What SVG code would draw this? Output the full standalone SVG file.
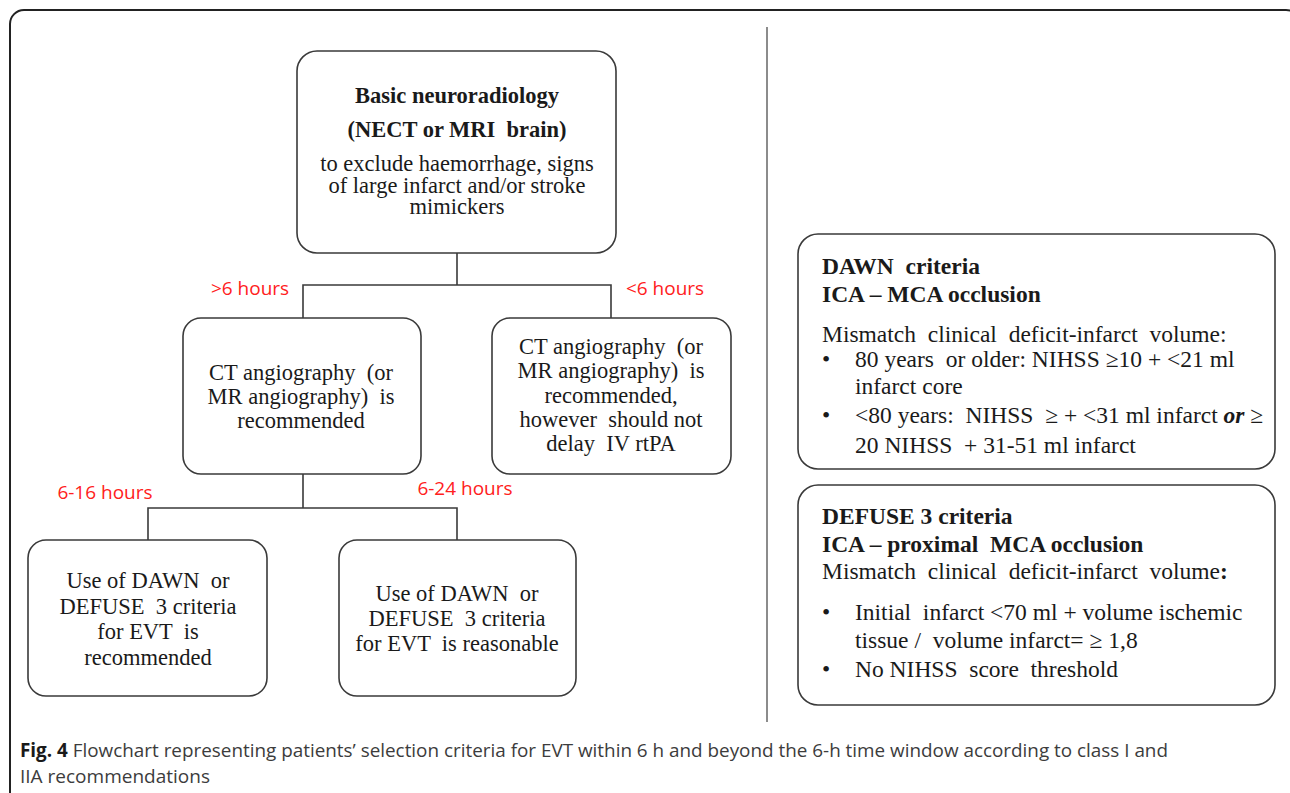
<svg xmlns="http://www.w3.org/2000/svg" width="1290" height="793" viewBox="0 0 1290 793">
<style>
text{white-space:pre}
.box{fill:#fff;stroke:#3a3a3a;stroke-width:1.6}
.t{font-family:"Liberation Serif","Times New Roman",serif;font-size:22.5px;fill:#1a1a1a}
.r{font-size:23.5px}
.c{text-anchor:middle}
.b{font-weight:bold}
.red{font-family:"Open Sans","Liberation Sans",sans-serif;font-size:19px;fill:#ff2020;text-anchor:middle}
.conn{fill:none;stroke:#3a3a3a;stroke-width:1.6}
.cap{font-family:"Open Sans","Liberation Sans",sans-serif;font-size:19px;fill:#3c3c3c}
</style>
<rect width="1290" height="793" fill="#fff"/>
<rect x="10" y="10" width="1290" height="800" rx="14" fill="none" stroke="#222" stroke-width="2"/>
<line x1="767" y1="27" x2="767" y2="722" stroke="#666" stroke-width="1.5"/>

<g id="connectors">
<path class="conn" d="M457,253 V285 M303,318 V285 H611 V318"/>
<path class="conn" d="M303,474 V508 M148,540 V508 H457 V540"/>
</g>

<g id="labels">
<text class="red" x="250" y="295">&gt;6 hours</text>
<text class="red" x="665" y="295">&lt;6 hours</text>
<text class="red" x="105" y="499">6-16 hours</text>
<text class="red" x="465" y="495">6-24 hours</text>
</g>

<g id="basic">
<rect class="box" x="297" y="51" width="319" height="202" rx="20"/>
<text class="t c b" x="457" y="103" font-size="23">Basic neuroradiology</text>
<text class="t c b" x="457" y="137" font-size="23">(NECT or MRI  brain)</text>
<text class="t c" x="457" y="171" font-size="21.5">to exclude haemorrhage, signs</text>
<text class="t c" x="457" y="193" font-size="21.5">of large infarct and/or stroke</text>
<text class="t c" x="457" y="214" font-size="21.5">mimickers</text>
</g>

<g id="cta-late">
<rect class="box" x="183" y="318" width="238" height="156" rx="18"/>
<text class="t c" x="301" y="380">CT angiography  (or</text>
<text class="t c" x="301" y="404">MR angiography)  is</text>
<text class="t c" x="301" y="428">recommended</text>
</g>

<g id="cta-early">
<rect class="box" x="492" y="318" width="239" height="156" rx="18"/>
<text class="t c" x="611" y="354">CT angiography  (or</text>
<text class="t c" x="611" y="378">MR angiography)  is</text>
<text class="t c" x="611" y="403">recommended,</text>
<text class="t c" x="611" y="427">however  should not</text>
<text class="t c" x="611" y="451">delay  IV rtPA</text>
</g>

<g id="evt-recommended">
<rect class="box" x="28" y="540" width="239" height="156" rx="18"/>
<text class="t c" x="148" y="588">Use of DAWN  or</text>
<text class="t c" x="148" y="614">DEFUSE  3 criteria</text>
<text class="t c" x="148" y="639">for EVT  is</text>
<text class="t c" x="148" y="665">recommended</text>
</g>

<g id="evt-reasonable">
<rect class="box" x="339" y="540" width="237" height="156" rx="18"/>
<text class="t c" x="457" y="601">Use of DAWN  or</text>
<text class="t c" x="457" y="626">DEFUSE  3 criteria</text>
<text class="t c" x="457" y="651">for EVT  is reasonable</text>
</g>

<g id="dawn">
<rect class="box" x="798" y="234" width="477" height="235" rx="20"/>
<text class="t r b" x="822" y="274">DAWN  criteria</text>
<text class="t r b" x="822" y="302">ICA – MCA occlusion</text>
<text class="t r" x="822" y="342">Mismatch  clinical  deficit-infarct  volume:</text>
<text class="t r" x="822" y="367">•</text>
<text class="t r" x="855" y="367">80 years  or older: NIHSS ≥10 + &lt;21 ml</text>
<text class="t r" x="855" y="394">infarct core</text>
<text class="t r" x="822" y="423">•</text>
<text class="t r" x="855" y="423">&lt;80 years:  NIHSS  ≥ + &lt;31 ml infarct <tspan font-weight="bold" font-style="italic">or</tspan> ≥</text>
<text class="t r" x="855" y="453">20 NIHSS  + 31-51 ml infarct</text>
</g>

<g id="defuse">
<rect class="box" x="798" y="485" width="477" height="220" rx="20"/>
<text class="t r b" x="822" y="524">DEFUSE 3 criteria</text>
<text class="t r b" x="822" y="552">ICA – proximal  MCA occlusion</text>
<text class="t r" x="822" y="579">Mismatch  clinical  deficit-infarct  volume<tspan font-weight="bold">:</tspan></text>
<text class="t r" x="822" y="620">•</text>
<text class="t r" x="855" y="620">Initial  infarct &lt;70 ml + volume ischemic</text>
<text class="t r" x="855" y="648">tissue /  volume infarct= ≥ 1,8</text>
<text class="t r" x="822" y="677">•</text>
<text class="t r" x="855" y="677">No NIHSS  score  threshold</text>
</g>

<g id="caption">
<text class="cap" x="20" y="757" textLength="1148" lengthAdjust="spacingAndGlyphs"><tspan font-weight="bold" fill="#1a1a1a">Fig. 4</tspan> Flowchart representing patients’ selection criteria for EVT within 6 h and beyond the 6-h time window according to class I and</text>
<text class="cap" x="20" y="783" textLength="190" lengthAdjust="spacingAndGlyphs">IIA recommendations</text>
</g>
</svg>
